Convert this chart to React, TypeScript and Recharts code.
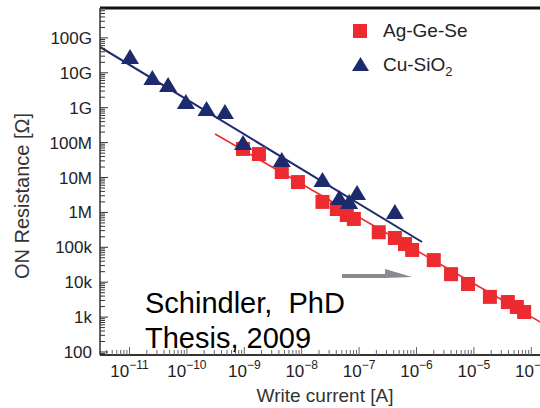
import { ScatterChart, Scatter, XAxis, YAxis, Legend, ReferenceLine } from 'recharts';

// write current [A] and ON resistance [Ohm]
const agGeSeCurrent = [9.5e-10, 1.8e-9, 4.5e-9, 8.6e-9, 2.3e-8, 4.1e-8, 6.1e-8, 8.1e-8, 2.2e-7, 4.2e-7, 6.3e-7, 8.4e-7, 2.0e-6, 4.0e-6, 7.9e-6, 1.9e-5, 3.9e-5, 5.6e-5, 7.5e-5];
const agGeSeResistance = [6.6e7, 4.7e7, 1.44e7, 7.4e6, 2.0e6, 1.25e6, 8.4e5, 6.5e5, 2.7e5, 1.85e5, 1.24e5, 8.4e4, 4.3e4, 1.7e4, 8.9e3, 3.8e3, 2.7e3, 1.95e3, 1.4e3];

const cuSiO2Current = [1.02e-11, 2.5e-11, 4.7e-11, 9.6e-11, 2.2e-10, 4.6e-10, 9.5e-10, 4.5e-9, 2.3e-8, 4.5e-8, 6.7e-8, 9.2e-8, 4.2e-7];
const cuSiO2Resistance = [2.84e10, 7.1e9, 4.47e9, 1.46e9, 9.2e8, 7.5e8, 9.7e7, 3.2e7, 8.5e6, 2.6e6, 2.0e6, 3.6e6, 1.03e6];

// fitted lines (end points)
const cuFitCurrent = [3.06e-12, 1.25e-6];
const cuFitResistance = [5.5e10, 1.42e5];
const agFitCurrent = [3.1e-10, 3.16e-4];
const agFitResistance = [1.76e8, 3.4e2];

// grey arrow
const arrowCurrent = [5.04e-8, 8.36e-7];
const arrowResistance = 1.5e4;

const xDomain = [Math.pow(10, -11.514), Math.pow(10, -3.5)];
const yDomain = [82, 7.2e11];

const xMajorTicks = [1e-11, 1e-10, 1e-9, 1e-8, 1e-7, 1e-6, 1e-5, 1e-4];
const xTickExponents = ['\u221211', '\u221210', '\u22129', '\u22128', '\u22127', '\u22126', '\u22125', '\u22124'];
const yMajorTicks = [1e2, 1e3, 1e4, 1e5, 1e6, 1e7, 1e8, 1e9, 1e10, 1e11];
const yTickLabels = ['100', '1k', '10k', '100k', '1M', '10M', '100M', '1G', '10G', '100G'];

const seriesNames = ['Ag-Ge-Se', 'Cu-SiO'];
const RED = '#ec2a30';
const NAVY = '#1e2a6e';
const FONT = '"Liberation Sans", Arial, sans-serif';

const zip = (xs: number[], ys: number[]) => xs.map((x, i) => ({ x, y: ys[i] }));
const agData = zip(agGeSeCurrent, agGeSeResistance);
const cuData = zip(cuSiO2Current, cuSiO2Resistance);
const cuFit = zip(cuFitCurrent, cuFitResistance);
const agFit = zip(agFitCurrent, agFitResistance);

function withMinors(domain: number[]) {
  const out: number[] = [];
  const lo = Math.floor(Math.log10(domain[0]));
  const hi = Math.ceil(Math.log10(domain[1]));
  for (let e = lo; e <= hi; e++) {
    for (let m = 1; m < 10; m++) {
      const v = m * Math.pow(10, e);
      if (v >= domain[0] && v <= domain[1]) out.push(v);
    }
  }
  return out;
}
const xTicks = withMinors(xDomain);
const yTicks = withMinors(yDomain);

const majorIndex = (majors: number[], v: number) =>
  majors.findIndex(m => Math.abs(Math.log10(m) - Math.log10(v)) < 1e-6);

function XTick(props: any) {
  const { x, y, payload } = props;
  const i = majorIndex(xMajorTicks, payload.value);
  return (
    <g>
      <line x1={x} x2={x} y1={y} y2={y - (i >= 0 ? 8 : 5)} stroke="#666" strokeWidth={1} />
      {i >= 0 && (
        <text x={x} y={y + 22} textAnchor="middle" fontFamily={FONT} fontSize={17} fill="#222">
          <tspan>10</tspan>
          <tspan dy={-8} fontSize={12}>{xTickExponents[i]}</tspan>
        </text>
      )}
    </g>
  );
}

function YTick(props: any) {
  const { x, y, payload } = props;
  const i = majorIndex(yMajorTicks, payload.value);
  return (
    <g>
      <line x1={x} x2={x + (i >= 0 ? 8 : 5)} y1={y} y2={y} stroke="#333" strokeWidth={1} />
      {i >= 0 && (
        <text x={x - 8} y={y + 6} textAnchor="end" fontFamily={FONT} fontSize={17} fill="#222">
          {yTickLabels[i]}
        </text>
      )}
    </g>
  );
}

function YTitle(props: any) {
  const vb = props.viewBox || { x: 0, y: 8 };
  const cx = vb.x + 22;
  const cy = vb.y + 188;
  return (
    <text x={cx} y={cy} transform={`rotate(-90, ${cx}, ${cy})`} textAnchor="middle" dy={7}
      fontFamily={FONT} fontSize={20} fill="#333">
      ON Resistance [Ω]
    </text>
  );
}

function XTitle(props: any) {
  const vb = props.viewBox || { x: 100, y: 355 };
  return (
    <text x={vb.x + 225} y={vb.y + 47} textAnchor="middle" fontFamily={FONT} fontSize={19} fill="#333">
      Write current [A]
    </text>
  );
}

const Square = (props: any) => (
  <rect x={props.cx - 7} y={props.cy - 7} width={14} height={14} fill={RED} />
);

const Triangle = (props: any) => {
  const { cx, cy } = props;
  return <polygon points={`${cx},${cy - 8} ${cx - 9},${cy + 7} ${cx + 9},${cy + 7}`} fill={NAVY} />;
};

const NoDot = () => <g />;

function Arrow(props: any) {
  const { x1, y1, x2 } = props;
  return (
    <g>
      <line x1={x1} y1={y1} x2={x2 - 26} y2={y1} stroke="#878b90" strokeWidth={4} />
      <polygon points={`${x2 - 27},${y1 - 7} ${x2},${y1 + 1} ${x2 - 27},${y1 + 2}`} fill="#878b90" />
    </g>
  );
}

function LegendBox() {
  return (
    <svg width={180} height={62} style={{ display: 'block' }}>
      <rect x={8} y={6} width={14} height={14} fill={RED} />
      <text x={38} y={19} fontFamily={FONT} fontSize={19} fill="#222">{seriesNames[0]}</text>
      <polygon points="15.5,39 7,53 24,53" fill={NAVY} />
      <text x={38} y={53} fontFamily={FONT} fontSize={19} fill="#222">
        {seriesNames[1]}
        <tspan fontSize={13} dy={5}>2</tspan>
      </text>
    </svg>
  );
}

export default function App() {
  return (
    <div style={{ position: 'fixed', left: 0, top: 0, width: 540, height: 408, overflow: 'hidden', background: '#fff' }}>
      <ScatterChart width={570} height={408} margin={{ top: 8, right: 10, bottom: 0, left: 0 }}>
        <XAxis
          type="number"
          dataKey="x"
          scale="log"
          domain={xDomain}
          allowDataOverflow
          ticks={xTicks}
          interval={0}
          tickSize={0}
          tickMargin={0}
          tick={<XTick />}
          height={53}
          axisLine={{ stroke: '#333', strokeWidth: 2 }}
          label={<XTitle />}
        />
        <YAxis
          type="number"
          dataKey="y"
          scale="log"
          domain={yDomain}
          allowDataOverflow
          ticks={yTicks}
          interval={0}
          tickSize={0}
          tickMargin={0}
          tick={<YTick />}
          width={100}
          axisLine={{ stroke: '#333', strokeWidth: 1.5 }}
          label={<YTitle />}
        />
        <ReferenceLine y={yDomain[1]} stroke="#111" strokeWidth={3} />
        <ReferenceLine
          segment={[{ x: arrowCurrent[0], y: arrowResistance }, { x: arrowCurrent[1], y: arrowResistance }]}
          shape={<Arrow />}
        />
        <Scatter data={agFit} line={{ stroke: RED, strokeWidth: 1.6 }} lineType="joint" shape={<NoDot />} legendType="none" isAnimationActive={false} />
        <Scatter data={cuFit} line={{ stroke: NAVY, strokeWidth: 2 }} lineType="joint" shape={<NoDot />} legendType="none" isAnimationActive={false} />
        <Scatter name={seriesNames[0]} data={agData} shape={<Square />} isAnimationActive={false} />
        <Scatter name={seriesNames[1]} data={cuData} shape={<Triangle />} isAnimationActive={false} />
        <Legend
          layout="vertical"
          align="center"
          verticalAlign="middle"
          content={<LegendBox />}
          wrapperStyle={{ left: 345, top: 18, width: 180 }}
        />
      </ScatterChart>
      <svg width={540} height={408} style={{ position: 'absolute', left: 0, top: 0, pointerEvents: 'none' }}>
        <text x={145} y={313} fontFamily={FONT} fontSize={29} fill="#000" style={{ whiteSpace: 'pre' }}>
          {'Schindler,  PhD'}
        </text>
        <text x={145} y={348} fontFamily={FONT} fontSize={29} fill="#000">
          Thesis, 2009
        </text>
      </svg>
    </div>
  );
}
